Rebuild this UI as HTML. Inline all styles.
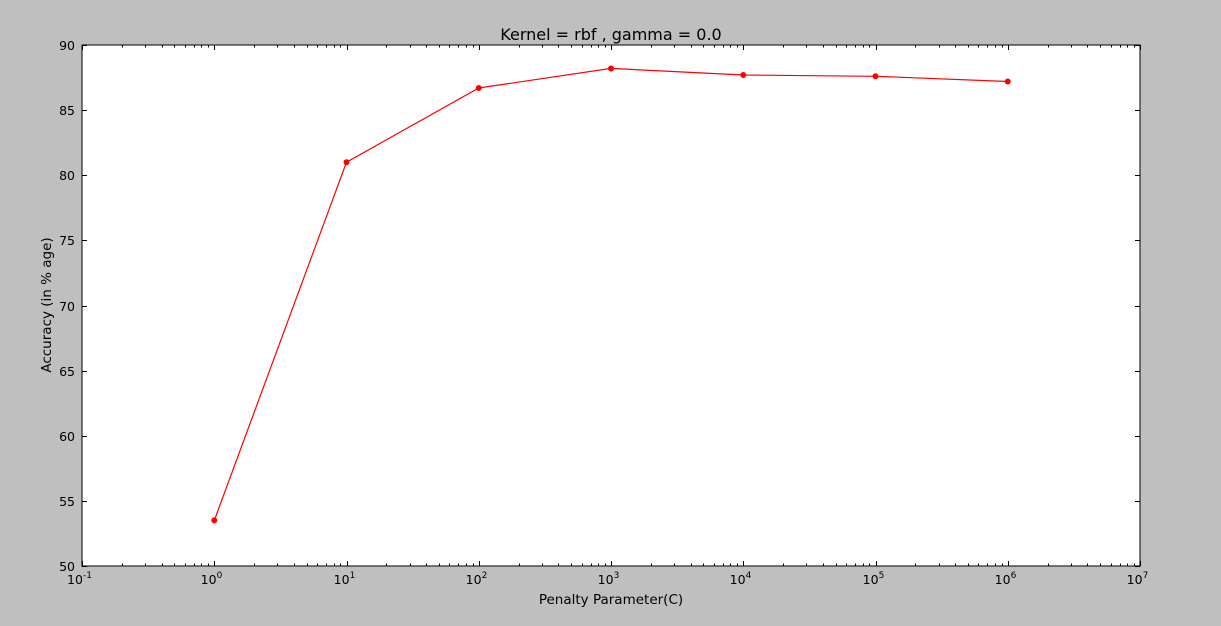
<!DOCTYPE html>
<html><head><meta charset="utf-8"><style>
html,body{margin:0;padding:0;background:#bfbfbf;}
svg{display:block;font-family:"DejaVu Sans","Liberation Sans",sans-serif;}
</style></head><body>
<svg id="chart" width="1221" height="626" xmlns="http://www.w3.org/2000/svg">
<rect x="0" y="0" width="1221" height="626" fill="#bfbfbf"/>
<rect x="82" y="45" width="1058" height="521" fill="#ffffff"/>
<g id="ticks"></g>
<g id="series"></g>
<rect x="82" y="45" width="1058" height="521" fill="none" stroke="#000" stroke-width="1"/>
<text x="611" y="40" font-size="16" text-anchor="middle">Kernel = rbf , gamma = 0.0</text>
<text x="611" y="604" font-size="13.5" text-anchor="middle">Penalty Parameter(C)</text>
<text transform="translate(51,305) rotate(-90)" font-size="13.5" text-anchor="middle">Accuracy (in % age)</text>
</svg>
<script>
const xExps = [0, 1, 2, 3, 4, 5, 6];
const accuracy = [53.5, 81.0, 86.7, 88.2, 87.7, 87.6, 87.2];
const xTickExps = [-1, 0, 1, 2, 3, 4, 5, 6, 7];
const yTicks = [50, 55, 60, 65, 70, 75, 80, 85, 90];

const L=82,R=1140,T=45,B=566,xMin=-1,xMax=7,yMin=50,yMax=90;
const NS="http://www.w3.org/2000/svg";
function xs(e){return L+(e-xMin)/(xMax-xMin)*(R-L);}
function ys(v){return B-(v-yMin)/(yMax-yMin)*(B-T);}
function mk(tag,attrs,parent){const el=document.createElementNS(NS,tag);for(const k in attrs)el.setAttribute(k,attrs[k]);parent.appendChild(el);return el;}
const tg=document.getElementById('ticks');
function line(x1,y1,x2,y2){const l=mk('line',{x1:x1,y1:y1,x2:x2,y2:y2,stroke:'#000','stroke-width':1},tg);

}
xTickExps.forEach(e=>{
  const x=Math.round(xs(e))+0.5;
  line(x,B,x,B-5);line(x,T,x,T+5);
  const t=mk('text',{x:x-3,y:B+18,'font-size':12.5,'text-anchor':'middle'},tg);
  
  
  t.textContent='10';
  const s=mk('tspan',{dy:-6,'font-size':9},t);s.textContent=String(e);
  if(e<xMax){for(let m=2;m<10;m++){const xm=Math.round(xs(e+Math.log10(m)))+0.5;line(xm,B,xm,B-2.5);line(xm,T,xm,T+2.5);}}
});
yTicks.forEach(v=>{
  const y=Math.round(ys(v))+0.5;
  line(L,y,L+5,y);line(R,y,R-5,y);
  const t=mk('text',{x:L-7,y:y+4.5,'font-size':12.5,'text-anchor':'end'},tg);
  
  
  t.textContent=String(v);
});
const sg=document.getElementById('series');
const pts=xExps.map((e,i)=>xs(e).toFixed(1)+','+ys(accuracy[i]).toFixed(1)).join(' ');
const pl=mk('polyline',{points:pts,fill:'none',stroke:'#ff0000','stroke-width':1.2},sg);


xExps.forEach((e,i)=>{
  const c=mk('circle',{cx:xs(e),cy:ys(accuracy[i]),r:3,fill:'#ff0000'},sg);
  
  
});
</script>
</body></html>
